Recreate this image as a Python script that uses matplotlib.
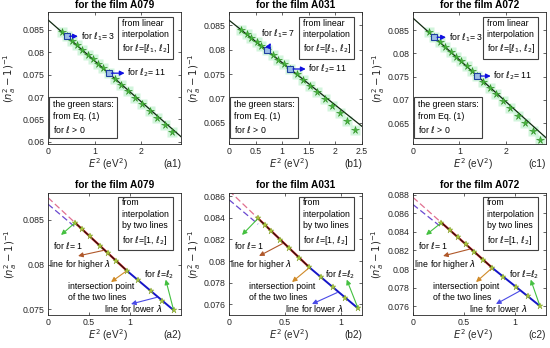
import numpy as np
import matplotlib.pyplot as plt
from matplotlib.ticker import FuncFormatter

plt.rcParams['font.family'] = ['Liberation Sans', 'DejaVu Sans']
plt.rcParams['mathtext.fontset'] = 'dejavusans'

films = ['A079', 'A031', 'A072']

# ---- top row: green stars from Eq. (1), l = 2, 3, ...
a1_x = [0.29, 0.40, 0.51, 0.62, 0.73, 0.85, 0.96, 1.07, 1.18, 1.30,
        1.43, 1.57, 1.72, 1.87, 2.02, 2.18, 2.34, 2.50, 2.66]
a1_y = [0.08458, 0.08358, 0.08257, 0.08156, 0.08055, 0.07945, 0.07845, 0.07744, 0.07643, 0.07533,
        0.07409, 0.07276, 0.07134, 0.06986, 0.06839, 0.06682, 0.06526, 0.06371, 0.06217]
b1_x = [0.23, 0.33, 0.42, 0.52, 0.61, 0.71, 0.82, 0.93, 1.04, 1.15,
        1.27, 1.40, 1.53, 1.66, 1.80, 1.94, 2.08, 2.22, 2.36]
b1_y = [0.08403, 0.08316, 0.08238, 0.08151, 0.08073, 0.07986, 0.07890, 0.07795, 0.07699, 0.07604,
        0.07494, 0.07376, 0.07253, 0.07130, 0.06989, 0.06847, 0.06695, 0.06534, 0.06362]
c1_x = [0.34, 0.46, 0.575, 0.69, 0.81, 0.925, 1.04, 1.16, 1.275, 1.39,
        1.52, 1.66, 1.80, 1.95, 2.10, 2.26, 2.42, 2.58, 2.74]
c1_y = [0.08454, 0.08346, 0.08243, 0.08140, 0.08032, 0.07929, 0.07826, 0.07718, 0.07615, 0.07512,
        0.07391, 0.07260, 0.07124, 0.06980, 0.06825, 0.06662, 0.06498, 0.06325, 0.06141]
first_l_top = 2
l1_values = [3, 7, 3]
l2_values = [11, 11, 11]
# linear interpolation for l = [l1, l2]: (intercept, slope)
fit_top = [(0.08724, -0.00916), (0.08603, -0.00869), (0.08759, -0.00897)]

# ---- bottom row: stars for l = 1 .. l2
a2_x = [0.33, 0.41, 0.51, 0.63, 0.73, 0.83, 0.96, 1.10, 1.25, 1.39, 1.53]
a2_y = [0.08469, 0.08401, 0.08315, 0.08213, 0.08128, 0.08043, 0.07932, 0.07823, 0.07707, 0.07598, 0.07490]
b2_x = [0.26, 0.32, 0.38, 0.46, 0.54, 0.63, 0.72, 0.82, 0.93, 1.04, 1.155]
b2_y = [0.08395, 0.08336, 0.08276, 0.08197, 0.08118, 0.08029, 0.07940, 0.07853, 0.07757, 0.07661, 0.07561]
c2_x = [0.28, 0.36, 0.44, 0.52, 0.60, 0.69, 0.78, 0.89, 1.01, 1.13, 1.25]
c2_y = [0.08498, 0.08421, 0.08343, 0.08266, 0.08188, 0.08101, 0.08013, 0.07917, 0.07812, 0.07708, 0.07603]
intersect_idx = [6, 6, 6]
# (intercept, slope) of the lines for higher and lower wavelength
line_high = [(0.0875, -0.00852), (0.08652, -0.00989), (0.0877, -0.0097)]
line_low = [(0.08677, -0.00776), (0.08568, -0.00872), (0.08693, -0.00872)]

top_x = [a1_x, b1_x, c1_x]
top_y = [a1_y, b1_y, c1_y]
bot_x = [a2_x, b2_x, c2_x]
bot_y = [a2_y, b2_y, c2_y]

# ---- axes limits and ticks
top_xlim = [(0, 2.85), (0, 2.5), (0, 2.87)]
top_ylim = [(0.0595, 0.0890), (0.0607, 0.0877), (0.0605, 0.0889)]
top_xticks = [[0, 1, 2], [0, 0.5, 1, 1.5, 2, 2.5], [0, 1, 2]]
top_yticks = [[0.06, 0.065, 0.07, 0.075, 0.08, 0.085],
              [0.065, 0.07, 0.075, 0.08, 0.085],
              [0.065, 0.07, 0.075, 0.08, 0.085]]
bot_xlim = [(0, 1.62), (0, 1.19), (0, 1.31)]
bot_ylim = [(0.07436, 0.08802), (0.0750, 0.0863), (0.07506, 0.08817)]
bot_xticks = [[0, 0.5, 1]] * 3
bot_yticks = [[0.075, 0.08, 0.085],
              [0.076, 0.078, 0.08, 0.082, 0.084, 0.086],
              [0.076, 0.078, 0.08, 0.082, 0.084, 0.086, 0.088]]

# layout (pixels of a 550x348 figure)
W, H = 550, 348
lefts = [48, 229, 413]
ylab_x_top = [-0.29, -0.26, -0.26]
ylab_x_bot = [-0.28, -0.26, -0.265]
# arrow offsets (points) for the l1 / l2 squares: (arrow dx, dy, text dx, dy)
l1_off = [(8.1, 0, 10.3, 0), (2.9, 5.3, -4.5, 12), (8.4, 0, 10.8, 0)]
l2_off = [(11.5, 0, 13, 0), (11.2, 0, 13, 0), (9.6, 0, 11.5, 0)]
high_arrow_x = [0.69, 0.49, 0.57]
low_arrow_x = [1.34, 0.98, 1.06]

fmt = FuncFormatter(lambda v, p: f'{v:g}')
fs_tick = 6.3
fs_ann = 6.3
box = dict(boxstyle='square,pad=0.4', fc='white', ec='#404040', lw=0.8)


def style(ax, xlim, ylim, xt, yt):
    ax.set_xlim(*xlim)
    ax.set_ylim(*ylim)
    ax.set_xticks(xt)
    ax.set_yticks(yt)
    ax.xaxis.set_major_formatter(fmt)
    ax.yaxis.set_major_formatter(fmt)
    ax.tick_params(direction='in', length=2.5, width=0.5, labelsize=fs_tick,
                   top=True, right=True, colors='#262626', pad=2.5)
    for s in ax.spines.values():
        s.set_color('#262626')
        s.set_linewidth(0.6)


fig = plt.figure(figsize=(W / 100, H / 100), dpi=100)
labels = 'abc'

for i in range(3):
    # ---------------- top row ----------------
    ax = fig.add_axes([lefts[i] / W, 1 - 144 / H, 133 / W, 132 / H])
    style(ax, top_xlim[i], top_ylim[i], top_xticks[i], top_yticks[i])
    xs, ys = top_x[i], top_y[i]
    ax.plot(xs, ys, 's', ms=7, color='#d2f5dc', mec='none', zorder=1)
    ax.plot(xs, ys, '*', ms=5.5, color='#45b83a', mec='#2f8f25', mew=0.4, zorder=3)
    b0, k = fit_top[i]
    ax.plot(top_xlim[i], [b0 + k * v for v in top_xlim[i]], color='#102810', lw=0.9, zorder=2)
    for lv, off, name in [(l1_values[i], l1_off[i], r'$\ell_1$'),
                          (l2_values[i], l2_off[i], r'$\ell_2$')]:
        j = lv - first_l_top
        px, py = xs[j], ys[j]
        ax.plot(px, py, 's', ms=4, mfc='#9dbde6', mec='#1f3f9f', mew=0.8, zorder=4)
        ax.annotate('', xy=(px, py), xycoords='data',
                    xytext=(off[0], off[1]), textcoords='offset points',
                    arrowprops=dict(arrowstyle='<|-', color='#1010e0', lw=0.9,
                                    mutation_scale=7, shrinkA=0, shrinkB=2), zorder=5)
        ax.annotate(f'for {name}= {lv}', xy=(px, py), xytext=(off[2], off[3]),
                    textcoords='offset points', fontsize=fs_ann, va='center', ha='left')
    ax.text(0.555, 0.95, 'from linear\ninterpolation\n' + r'for $\ell$=[$\ell_1$, $\ell_2$]',
            transform=ax.transAxes, fontsize=fs_ann, va='top', ha='left',
            linespacing=1.35, bbox=box)
    ax.text(0.035, 0.07, 'the green stars:\nfrom Eq. (1)\n' + r'for $\ell$ > 0',
            transform=ax.transAxes, fontsize=fs_ann, va='bottom', ha='left',
            linespacing=1.35, bbox=box)
    ax.text(0.5, 1.055, f'for the film {films[i]}', transform=ax.transAxes,
            fontsize=7.3, fontweight='bold', ha='center', va='center')
    ax.text(0.45, -0.15, r'$E^2$ (eV$^2$)', transform=ax.transAxes,
            fontsize=7.2, ha='center', va='center', color='#262626')
    ax.text(1.0, -0.15, f'({labels[i]}1)', transform=ax.transAxes,
            fontsize=7.3, ha='right', va='center', color='#262626')
    ax.text(ylab_x_top[i], 0.5, r'$(n_a^2-1)^{-1}$', transform=ax.transAxes,
            fontsize=7.2, rotation=90, ha='center', va='center', color='#262626')

    # ---------------- bottom row ----------------
    ax = fig.add_axes([lefts[i] / W, 1 - 315 / H, 133 / W, 122 / H])
    style(ax, bot_xlim[i], bot_ylim[i], bot_xticks[i], bot_yticks[i])
    xs, ys = bot_x[i], bot_y[i]
    xi = xs[intersect_idx[i]]
    hb, hk = line_high[i]
    lb, lk = line_low[i]
    ax.plot([0, xs[0]], [hb, hb + hk * xs[0]], '--', color='#e07090', lw=0.9, dashes=(5, 2.5))
    ax.plot([0, xs[0]], [lb, lb + lk * xs[0]], '--', color='#6a48d0', lw=0.9, dashes=(5, 2.5))
    ax.plot([xs[0], xi], [hb + hk * xs[0], hb + hk * xi], color='#d02020', lw=1.6, zorder=2)
    ax.plot([xs[0], xi], [hb + hk * xs[0], hb + hk * xi], color='#201010', lw=0.8, zorder=2)
    ax.plot([xi, xs[-1]], [lb + lk * xi, lb + lk * xs[-1]], color='#1515c8', lw=1.4, zorder=2)
    ax.plot(xs, ys, '*', ms=4.5, color='#a8c83a', mec='#7a9a20', mew=0.3, zorder=3)

    green = '#44c040'
    arrows = [
        ((xs[0], ys[0]), (0.098, 0.656), green),
        ((high_arrow_x[i], hb + hk * high_arrow_x[i]), (0.226, 0.484), '#b0582a'),
        ((xi, ys[intersect_idx[i]]), (0.474, 0.27), '#d08a28'),
        ((low_arrow_x[i], lb + lk * low_arrow_x[i]), (0.624, 0.09), '#4a4ae6'),
        ((xs[-1], ys[-1]), (0.885, 0.29), green),
    ]
    for start, end, c in arrows:
        ax.annotate('', xy=end, xycoords='axes fraction', xytext=start, textcoords='data',
                    arrowprops=dict(arrowstyle='-|>', color=c, lw=0.8,
                                    mutation_scale=7, shrinkA=1, shrinkB=0))
    ax.text(0.035, 0.566, r'for $\ell$= 1', transform=ax.transAxes, fontsize=fs_ann, va='center')
    ax.text(0.01, 0.418, r'line for higher $\lambda$', transform=ax.transAxes,
            fontsize=fs_ann, va='center')
    ax.text(0.15, 0.19, 'intersection point\nof the two lines', transform=ax.transAxes,
            fontsize=fs_ann, va='center', linespacing=1.3)
    ax.text(0.42, 0.057, r'line for lower $\lambda$', transform=ax.transAxes,
            fontsize=fs_ann, va='center')
    ax.text(0.72, 0.33, r'for $\ell$=$\ell_2$', transform=ax.transAxes,
            fontsize=fs_ann, va='center')
    ax.text(0.555, 0.955, 'from\ninterpolation\nby two lines\n' + r'for $\ell$=[1, $\ell_2$]',
            transform=ax.transAxes, fontsize=fs_ann, va='top', ha='left',
            linespacing=1.35, bbox=box)
    ax.text(0.5, 1.065, f'for the film {films[i]}', transform=ax.transAxes,
            fontsize=7.3, fontweight='bold', ha='center', va='center')
    ax.text(0.45, -0.165, r'$E^2$ (eV$^2$)', transform=ax.transAxes,
            fontsize=7.2, ha='center', va='center', color='#262626')
    ax.text(1.0, -0.165, f'({labels[i]}2)', transform=ax.transAxes,
            fontsize=7.3, ha='right', va='center', color='#262626')
    ax.text(ylab_x_bot[i], 0.5, r'$(n_a^2-1)^{-1}$', transform=ax.transAxes,
            fontsize=7.2, rotation=90, ha='center', va='center', color='#262626')

fig.savefig('out.png', dpi=100)
